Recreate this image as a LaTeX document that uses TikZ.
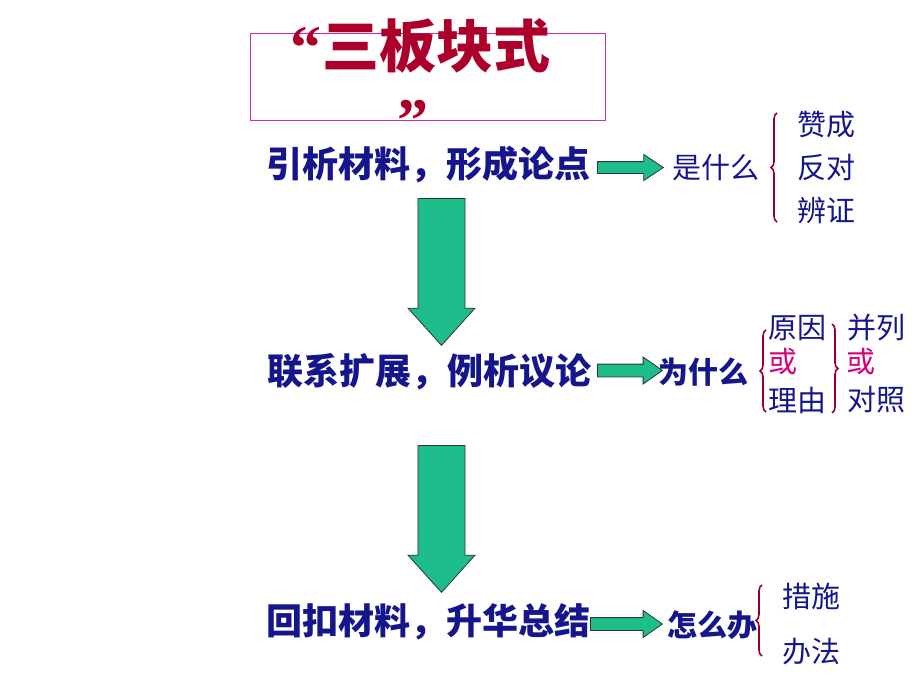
\documentclass[tikz,border=0pt]{standalone}
\usepackage{fontspec}
\usetikzlibrary{shapes.arrows,decorations.pathreplacing}
\newfontfamily\cjk{Noto Sans CJK SC}
\newfontfamily\quotefont{Liberation Serif}
\definecolor{navytext}{RGB}{22,22,140}
\definecolor{titlered}{RGB}{172,0,42}
\definecolor{ormagenta}{RGB}{214,0,120}
\definecolor{boxmagenta}{RGB}{205,40,160}
\definecolor{bracered}{RGB}{150,0,40}
\definecolor{arrowgreen}{RGB}{30,190,140}

\tikzset{
  rowtext/.style={anchor=center, inner sep=0pt, text=navytext, font=\cjk\bfseries\fontsize{36}{40}\selectfont},
  asktext/.style={anchor=center, inner sep=0pt, text=navytext, font=\cjk\fontsize{29}{34}\selectfont},
  askbold/.style={asktext, font=\cjk\bfseries\fontsize{30}{34}\selectfont},
  itemtext/.style={anchor=center, inner sep=0pt, text=navytext, font=\cjk\fontsize{29}{34}\selectfont},
  ortext/.style={itemtext, text=ormagenta},
  quotemark/.style={anchor=center, inner sep=0pt, text height=10pt, text depth=10pt, text=titlered, font=\quotefont\bfseries\fontsize{62}{64}\selectfont},
  blockarrow/.style={single arrow, anchor=tail, draw=black!80, line width=0.8pt, fill=arrowgreen, inner sep=0pt, text depth=0pt, single arrow head indent=0pt},
  bracket/.style={decorate, decoration={brace, amplitude=6pt}, draw=bracered, line width=1.6pt}
}

\begin{document}
\begin{tikzpicture}[x=1pt, y=-1pt]
  \useasboundingbox (0,0) rectangle (920,690);
  % title
  \draw[boxmagenta, line width=0.8pt] (250,33) rectangle (605,120);
  \node[anchor=center, inner sep=0pt, text=titlered, font=\cjk\bfseries\fontsize{57}{64}\selectfont] (title) at (436,46) {三板块式};
  \node[quotemark] (lquote) at (306,34) {\smash{\raisebox{-35pt}{“}}};
  \node[quotemark] (rquote) at (413,107) {\smash{\raisebox{-35pt}{”}}};

  % three steps
  \node[rowtext] (step1) at (428,165) {引析材料，形成论点};
  \node[rowtext] (step2) at (429,372) {联系扩展，例析议论};
  \node[rowtext] (step3) at (428,622) {回扣材料，升华总结};

  % down arrows
  \node[blockarrow, rotate=-90, text height=33pt, minimum height=147, minimum width=67, single arrow tip angle=84] (down1) at (441.5,198) {};
  \node[blockarrow, rotate=-90, text height=33pt, minimum height=147, minimum width=67, single arrow tip angle=84] (down2) at (441.5,445) {};

  % side arrows
  \node[blockarrow, text height=11pt, minimum height=66, minimum width=21, single arrow tip angle=67] (right1) at (597,167.5) {};
  \node[blockarrow, text height=12pt, minimum height=65, minimum width=23, single arrow tip angle=70] (right2) at (597,370.5) {};
  \node[blockarrow, text height=12pt, minimum height=72, minimum width=22, single arrow tip angle=70] (right3) at (590,624) {};

  % questions
  \node[asktext] (what) at (716,168) {是什么};
  \node[askbold] (why) at (703,372) {为什么};
  \node[askbold] (how) at (712,625) {怎么办};

  % first group
  \coordinate (b1top) at (777,113);
  \coordinate (b1bot) at (777,222);
  \draw[bracket] (b1bot) -- (b1top);
  \node[itemtext] (agree) at (826,125) {赞成};
  \node[itemtext] (oppose) at (826,168) {反对};
  \node[itemtext] (argue) at (826,210) {辨证};

  % second group
  \coordinate (b2top) at (766,330);
  \coordinate (b2bot) at (766,412);
  \draw[bracket] (b2bot) -- (b2top);
  \node[itemtext] (cause) at (797,328) {原因};
  \node[ortext] (or1) at (783,362) {或};
  \node[itemtext] (reason) at (797,400) {理由};
  \coordinate (b3top) at (832,324);
  \coordinate (b3bot) at (832,413);
  \draw[bracket, decoration={mirror}] (b3bot) -- (b3top);
  \node[itemtext] (parallel) at (876,328) {并列};
  \node[ortext] (or2) at (861,362) {或};
  \node[itemtext] (contrast) at (876,400) {对照};

  % third group
  \coordinate (b4top) at (762,585);
  \coordinate (b4bot) at (762,656);
  \draw[bracket] (b4bot) -- (b4top);
  \node[itemtext] (measure) at (811,596) {措施};
  \node[itemtext] (method) at (811,652) {办法};
\end{tikzpicture}
\end{document}
